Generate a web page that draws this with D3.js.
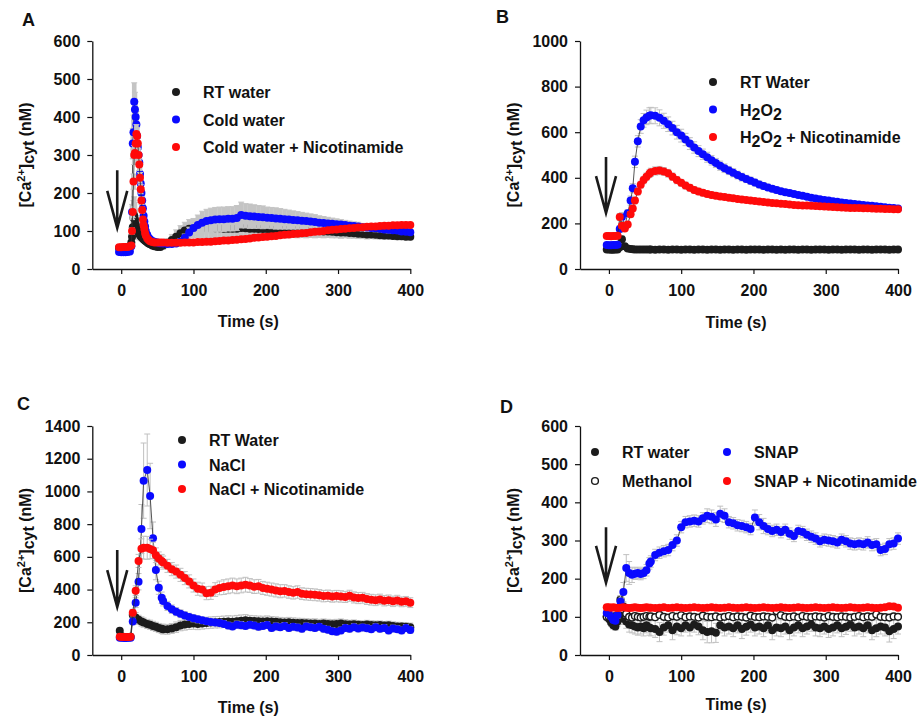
<!DOCTYPE html>
<html>
<head>
<meta charset="utf-8">
<script src="https://cdn.jsdelivr.net/npm/d3@7"></script>
<style>
  body { margin: 0; background: #fff; }
  svg text { font-family: Arial, "Liberation Sans", Helvetica, sans-serif; font-weight: bold; }
</style>
</head>
<body>
<svg id="fig" width="921" height="720"></svg>
<script>
// ---- tick labels ----
const xTicks = [0, 100, 200, 300, 400];
const yTicksA = [0, 100, 200, 300, 400, 500, 600];
const yTicksB = [0, 200, 400, 600, 800, 1000];
const yTicksC = [0, 200, 400, 600, 800, 1000, 1200, 1400];
const yTicksD = [0, 100, 200, 300, 400, 500, 600];

// ---- legends ----
const labelsA = ["RT water", "Cold water", "Cold water + Nicotinamide"];
const labelsB = ["RT Water", "H_2O_2", "H_2O_2 + Nicotinamide"];
const labelsC = ["RT Water", "NaCl", "NaCl + Nicotinamide"];
const labelsD = ["RT water", "Methanol", "SNAP", "SNAP + Nicotinamide"];

// treatment arrow (time, top value, tip value) for panels A-D
const arrowT = [-5.5, -4, -5.5, -4];
const arrowTop = [260, 491, 642, 335];
const arrowTip = [108, 245, 293, 189];

// ---- panel A: cold shock ----
const timeA = [
  -3, 0, 3, 6, 9, 12, 14, 15, 16, 17, 18, 19, 20, 21, 22, 23, 24, 25, 26, 27,
  28, 29, 30, 31, 32, 33, 34, 36, 38, 40, 43, 46, 50, 54,
  58, 64, 70, 76, 82, 88, 94, 100, 106, 112,
  118, 124, 130, 136, 142, 148, 154, 160, 166, 172,
  178, 184, 190, 196, 202, 208, 214, 220, 226, 232,
  238, 244, 250, 256, 262, 268, 274, 280, 286, 292,
  298, 304, 310, 316, 322, 328, 334, 340, 346, 352,
  358, 364, 370, 376, 382, 388, 394, 400];
const rtWaterA = [
  55, 55, 54, 55, 55, 58, 70, 85, 110, 135, 140, 130, 118, 110, 105, 100, 96, 92, 89, 86,
  84, 82, 80, 78, 76, 75, 73, 70, 67, 65, 62, 60, 58, 58,
  62, 68, 76, 85, 94, 101, 106, 108, 108, 108,
  108, 108, 107, 107, 106, 106, 106, 106, 108, 107,
  106, 106, 105, 105, 105, 104, 104, 104, 103, 103,
  103, 102, 102, 101, 101, 100, 100, 99, 99, 98,
  97, 96, 96, 95, 94, 93, 92, 91, 91, 90,
  89, 88, 88, 87, 86, 86, 85, 85];
const coldWaterA = [
  45, 44, 44, 44, 45, 46, 60, 150, 330, 360, 440, 420, 400, 380, 350, 320, 300, 280, 250, 225,
  200, 180, 160, 140, 125, 112, 100, 90, 82, 78, 74, 72, 70, 68,
  67, 66, 66, 67, 72, 82, 96, 108, 116, 122,
  126, 128, 130, 131, 131, 132, 132, 134, 142, 140,
  139, 138, 137, 136, 135, 134, 133, 132, 131, 130,
  129, 128, 127, 126, 125, 124, 122, 121, 120, 119,
  118, 117, 116, 114, 113, 112, 110, 109, 108, 107,
  106, 104, 103, 102, 101, 99, 98, 97];
const coldNicA = [
  57, 57, 58, 58, 58, 60, 62, 100, 150, 230, 300, 305, 330, 355, 350, 330, 300, 275, 240, 210,
  180, 155, 130, 115, 105, 95, 88, 80, 76, 73, 71, 70, 70, 70,
  70, 69, 69, 69, 69, 70, 70, 70, 71, 71,
  72, 72, 73, 74, 75, 75, 76, 77, 78, 79,
  80, 82, 83, 84, 85, 86, 87, 89, 90, 91,
  92, 93, 94, 95, 97, 98, 99, 100, 102, 103,
  104, 105, 106, 107, 108, 109, 110, 111, 112, 112,
  113, 114, 114, 115, 115, 116, 116, 116];
const rtWaterA_se = [
  3, 3, 3, 3, 3, 4, 8, 15, 30, 45, 50, 45, 40, 30, 25, 20, 18, 15, 12, 10,
  10, 8, 8, 8, 6, 6, 6, 5, 5, 5, 5, 5, 6, 8,
  10, 12, 15, 18, 20, 22, 24, 25, 25, 25,
  25, 25, 25, 25, 25, 25, 25, 25, 26, 25,
  25, 24, 24, 24, 23, 23, 22, 22, 21, 21,
  20, 20, 19, 19, 18, 18, 17, 17, 16, 16,
  15, 15, 14, 14, 13, 13, 12, 12, 11, 11,
  10, 10, 10, 9, 9, 9, 8, 8];
const coldWaterA_se = [
  3, 3, 3, 3, 3, 3, 5, 20, 40, 45, 50, 45, 40, 35, 30, 28, 25, 22, 20, 18,
  15, 12, 10, 10, 8, 8, 6, 6, 5, 5, 5, 5, 5, 5,
  5, 5, 5, 6, 8, 10, 14, 20, 26, 30,
  31, 32, 32, 32, 32, 32, 32, 33, 34, 32,
  32, 31, 30, 30, 28, 28, 28, 27, 26, 25,
  24, 23, 22, 21, 20, 19, 18, 17, 16, 15,
  14, 13, 12, 12, 11, 11, 10, 10, 9, 9,
  8, 8, 8, 7, 7, 7, 6, 6];
const coldNicA_se = [
  2, 2, 2, 2, 2, 2, 3, 8, 15, 20, 25, 25, 25, 25, 22, 20, 18, 16, 14, 12,
  10, 8, 6, 5, 5, 4, 4, 3, 3, 3, 3, 3, 3, 3,
  3, 3, 3, 3, 3, 3, 3, 3, 3, 3,
  3, 3, 3, 3, 3, 3, 3, 3, 3, 3,
  3, 3, 3, 3, 3, 3, 3, 3, 3, 3,
  3, 3, 3, 3, 3, 3, 3, 3, 3, 3,
  3, 3, 3, 3, 3, 3, 3, 3, 3, 3,
  3, 3, 3, 3, 3, 3, 3, 3];

// ---- panel B: H2O2 ----
const timeB = [
  -3, 0, 3, 6, 9, 12, 15, 18, 22, 26, 30, 33, 36, 40, 44, 48, 52, 56,
  58, 64, 70, 76, 82, 88, 94, 100, 106, 112,
  118, 124, 130, 136, 142, 148, 154, 160, 166, 172,
  178, 184, 190, 196, 202, 208, 214, 220, 226, 232,
  238, 244, 250, 256, 262, 268, 274, 280, 286, 292,
  298, 304, 310, 316, 322, 328, 334, 340, 346, 352,
  358, 364, 370, 376, 382, 388, 394, 400];
const rtWaterB = [
  85, 85, 84, 84, 85, 85, 95, 130, 100, 90, 88, 87, 86, 86, 85, 86, 85, 86,
  85, 84, 86, 85, 84, 85, 86, 84, 85, 85,
  84, 86, 85, 84, 85, 85, 84, 85, 86, 84,
  85, 85, 84, 85, 86, 85, 84, 85, 85, 84,
  85, 84, 85, 86, 84, 85, 85, 84, 85, 85,
  86, 84, 85, 85, 84, 85, 86, 85, 84, 85,
  85, 84, 85, 86, 85, 84, 85, 85];
const h2o2B = [
  105, 104, 104, 105, 105, 106, 175, 228, 185, 245, 300, 354, 470, 560, 625, 652, 665, 672,
  674, 672, 663, 650, 635, 618, 600, 585, 568, 550,
  533, 517, 503, 490, 477, 465, 453, 442, 432, 422,
  412, 403, 395, 387, 379, 371, 364, 358, 352, 346,
  341, 337, 333, 329, 325, 321, 317, 313, 309, 306,
  303, 300, 297, 295, 292, 290, 287, 285, 283, 281,
  279, 277, 275, 273, 271, 269, 267, 265];
const h2o2NicB = [
  145, 145, 144, 145, 145, 146, 228, 190, 178, 195, 240, 265, 300, 340, 370, 390, 405, 418,
  424, 430, 432, 428, 420, 405, 390, 378, 366, 356,
  347, 340, 334, 329, 325, 321, 318, 316, 313, 310,
  307, 305, 303, 300, 298, 296, 294, 292, 290, 288,
  286, 285, 283, 281, 280, 279, 278, 277, 276, 275,
  274, 273, 272, 271, 270, 269, 268, 268, 267, 266,
  266, 265, 264, 264, 263, 263, 262, 262];
const rtWaterB_se = [
  5, 5, 5, 5, 5, 5, 8, 15, 10, 8, 8, 8, 8, 8, 8, 8, 8, 8,
  8, 8, 8, 8, 8, 8, 8, 8, 8, 8,
  8, 8, 8, 8, 8, 8, 8, 8, 8, 8,
  8, 8, 8, 8, 8, 8, 8, 8, 8, 8,
  8, 8, 8, 8, 8, 8, 8, 8, 8, 8,
  8, 8, 8, 8, 8, 8, 8, 8, 8, 8,
  8, 8, 8, 8, 8, 8, 8, 8];
const h2o2B_se = [
  8, 8, 8, 8, 8, 8, 15, 20, 15, 15, 20, 20, 25, 25, 30, 30, 32, 35,
  35, 35, 35, 33, 32, 30, 30, 28, 27, 26,
  25, 24, 23, 22, 21, 20, 20, 19, 18, 18,
  17, 17, 16, 16, 15, 15, 15, 14, 14, 14,
  13, 13, 13, 12, 12, 12, 12, 11, 11, 11,
  11, 10, 10, 10, 10, 10, 10, 9, 9, 9,
  9, 9, 9, 9, 8, 8, 8, 8];
const h2o2NicB_se = [
  5, 5, 5, 5, 5, 5, 15, 12, 10, 10, 12, 12, 14, 15, 15, 16, 16, 17,
  18, 18, 18, 17, 17, 16, 16, 15, 15, 15,
  14, 14, 14, 13, 13, 13, 12, 12, 12, 12,
  11, 11, 11, 11, 10, 10, 10, 10, 10, 10,
  9, 9, 9, 9, 9, 9, 9, 8, 8, 8,
  8, 8, 8, 8, 8, 8, 7, 7, 7, 7,
  7, 7, 7, 7, 7, 7, 7, 7];

// ---- panel C: NaCl ----
const timeC = [
  -2, 1, 4, 7, 10, 13, 16, 20, 24, 28, 31, 36, 40, 44, 48, 52, 56,
  58, 64, 70, 76, 82, 88, 94, 100, 106, 112,
  118, 124, 130, 136, 142, 148, 154, 160, 166, 172,
  178, 184, 190, 196, 202, 208, 214, 220, 226, 232,
  238, 244, 250, 256, 262, 268, 274, 280, 286, 292,
  298, 304, 310, 316, 322, 328, 334, 340, 346, 352,
  358, 364, 370, 376, 382, 388, 394, 400];
const rtWaterC = [
  148, 115, 110, 110, 110, 112, 245, 230, 215, 205, 198, 190, 185, 178, 172, 165, 160,
  158, 157, 162, 170, 180, 186, 190, 192, 190, 193,
  196, 198, 200, 201, 203, 205, 204, 207, 210, 212,
  210, 208, 206, 205, 207, 205, 203, 200, 198, 200,
  197, 195, 196, 194, 192, 193, 190, 192, 190, 188,
  190, 192, 188, 186, 188, 185, 183, 186, 184, 182,
  183, 180, 182, 178, 175, 174, 172, 170];
const naclC = [
  105, 105, 104, 104, 105, 106, 205, 320, 448, 770, 1066, 1131, 972, 713, 520, 411, 350,
  330, 300, 280, 265, 252, 242, 233, 225, 218, 212,
  207, 202, 198, 195, 190, 180, 175, 185, 182, 178,
  185, 180, 172, 178, 183, 165, 175, 170, 178, 165,
  172, 168, 160, 175, 170, 165, 172, 160, 155, 145,
  142, 150, 165, 160, 170, 162, 168, 163, 158, 170,
  160, 165, 150, 162, 158, 150, 165, 153];
const naclNicC = [
  112, 110, 110, 110, 110, 112, 259, 393, 575, 650, 656, 655, 648, 640, 610, 590, 575,
  565, 545, 525, 510, 490, 470, 450, 425, 405, 400,
  378, 380, 400, 410, 415, 420, 425, 420, 425, 430,
  425, 418, 420, 410, 405, 400, 395, 390, 392, 385,
  380, 385, 375, 372, 370, 368, 365, 360, 362, 358,
  360, 358, 355, 362, 352, 348, 350, 342, 338, 335,
  340, 332, 335, 328, 333, 325, 328, 320];
const rtWaterC_se = [
  10, 8, 8, 8, 8, 8, 30, 30, 28, 28, 28, 28, 28, 28, 28, 28, 28,
  30, 30, 30, 32, 32, 34, 34, 35, 35, 35,
  35, 35, 35, 35, 35, 35, 35, 35, 35, 35,
  32, 32, 32, 32, 32, 30, 30, 30, 30, 30,
  30, 30, 28, 28, 28, 28, 28, 28, 28, 28,
  28, 28, 28, 26, 26, 26, 26, 26, 26, 26,
  25, 25, 25, 25, 25, 25, 25, 25];
const naclC_se = [
  5, 5, 5, 5, 5, 5, 20, 30, 50, 150, 230, 220, 200, 100, 60, 40, 35,
  30, 28, 26, 25, 24, 23, 22, 22, 21, 20,
  20, 20, 20, 20, 20, 20, 20, 22, 22, 20,
  20, 20, 20, 20, 20, 20, 20, 20, 20, 20,
  20, 20, 20, 20, 20, 20, 20, 20, 20, 20,
  20, 20, 20, 20, 20, 20, 20, 20, 20, 20,
  20, 20, 20, 20, 20, 20, 20, 20];
const naclNicC_se = [
  5, 5, 5, 5, 5, 5, 20, 30, 40, 60, 70, 70, 60, 50, 45, 40, 40,
  40, 40, 40, 40, 40, 40, 40, 40, 40, 40,
  40, 40, 42, 42, 45, 45, 45, 45, 45, 45,
  42, 42, 42, 40, 40, 40, 40, 40, 38, 38,
  38, 38, 36, 36, 36, 36, 35, 35, 35, 35,
  35, 35, 34, 34, 34, 34, 33, 33, 33, 33,
  32, 32, 32, 32, 32, 30, 30, 30];

// ---- panel D: SNAP ----
const timeD = [
  -3, 0, 3, 6, 9, 12, 16, 20, 24, 28, 32, 36, 40, 44, 48, 52, 56,
  58, 64, 70, 76, 82, 88, 94, 100, 106, 112,
  118, 124, 130, 136, 142, 148, 154, 160, 166, 172,
  178, 184, 190, 196, 202, 208, 214, 220, 226, 232,
  238, 244, 250, 256, 262, 268, 274, 280, 286, 292,
  298, 304, 310, 316, 322, 328, 334, 340, 346, 352,
  358, 364, 370, 376, 382, 388, 394, 400];
const rtWaterD = [
  100, 95, 85, 78, 75, 88, 103, 95, 88, 80, 78, 75, 72, 75, 70, 78, 72,
  70, 68, 60, 72, 78, 65, 75, 70, 78, 72,
  80, 75, 65, 60, 62, 58, 78, 72, 75, 70,
  78, 68, 74, 80, 72, 75, 70, 78, 65, 72,
  70, 75, 65, 72, 78, 70, 75, 80, 72, 70,
  75, 68, 72, 78, 70, 74, 80, 72, 75, 70,
  78, 65, 70, 75, 72, 62, 68, 75];
const methanolD = [
  100, 100, 98, 100, 102, 104, 145, 127, 108, 100, 98, 102, 100, 98, 100, 102, 100,
  101, 99, 105, 100, 98, 102, 100, 104, 99, 101,
  100, 98, 103, 100, 99, 101, 98, 100, 102, 99,
  101, 100, 98, 103, 100, 99, 101, 100, 98, 115,
  104, 100, 99, 101, 98, 102, 100, 99, 101, 100,
  98, 102, 100, 99, 101, 100, 98, 100, 102, 99,
  101, 100, 106, 100, 99, 98, 101, 100];
const snapD = [
  110, 108, 100, 92, 90, 105, 140, 165, 228, 215, 210, 213, 215, 212, 215, 222, 240,
  245, 262, 268, 272, 275, 288, 300, 335, 348, 350,
  352, 350, 358, 365, 362, 355, 370, 365, 348, 345,
  340, 338, 335, 330, 360, 348, 338, 330, 325, 328,
  322, 328, 318, 312, 325, 322, 315, 310, 305, 298,
  302, 300, 298, 295, 302, 298, 292, 290, 292, 290,
  295, 288, 290, 275, 278, 290, 292, 305];
const snapNicD = [
  125, 125, 124, 125, 124, 123, 124, 125, 124, 123, 124, 125, 124, 123, 124, 125, 124,
  124, 123, 124, 125, 123, 124, 125, 124, 123, 124,
  125, 124, 123, 124, 125, 124, 123, 124, 125, 124,
  123, 124, 125, 124, 123, 124, 125, 124, 123, 124,
  125, 124, 123, 124, 125, 124, 123, 124, 125, 124,
  123, 124, 125, 124, 123, 124, 125, 124, 123, 124,
  125, 124, 123, 124, 125, 128, 127, 124];
const rtWaterD_se = [
  10, 10, 10, 10, 10, 12, 15, 15, 18, 20, 20, 20, 20, 20, 20, 20, 20,
  20, 22, 25, 20, 18, 25, 22, 20, 18, 22,
  20, 22, 25, 28, 30, 25, 20, 22, 20, 22,
  20, 25, 22, 20, 22, 20, 22, 20, 25, 22,
  22, 20, 25, 22, 20, 22, 20, 18, 22, 22,
  20, 22, 22, 20, 22, 20, 18, 22, 20, 22,
  20, 25, 22, 20, 22, 28, 25, 20];
const methanolD_se = [
  5, 5, 5, 5, 5, 5, 10, 10, 8, 8, 8, 8, 8, 8, 8, 8, 8,
  8, 8, 8, 8, 8, 8, 8, 8, 8, 8,
  8, 8, 8, 8, 8, 8, 8, 8, 8, 8,
  8, 8, 8, 8, 8, 8, 8, 8, 8, 10,
  8, 8, 8, 8, 8, 8, 8, 8, 8, 8,
  8, 8, 8, 8, 8, 8, 8, 8, 8, 8,
  8, 8, 8, 8, 8, 8, 8, 8];
const snapD_se = [
  5, 5, 5, 5, 5, 8, 15, 25, 35, 30, 20, 15, 15, 15, 15, 15, 15,
  15, 15, 15, 15, 15, 15, 15, 15, 15, 15,
  15, 15, 15, 18, 18, 18, 20, 18, 15, 15,
  15, 15, 15, 15, 20, 20, 20, 15, 15, 15,
  15, 15, 15, 15, 15, 15, 15, 15, 15, 15,
  15, 15, 15, 15, 15, 15, 15, 15, 15, 15,
  15, 15, 15, 15, 15, 15, 15, 15];
const snapNicD_se = [
  5, 5, 5, 5, 5, 5, 5, 5, 5, 5, 5, 5, 5, 5, 5, 5, 5,
  6, 6, 6, 6, 6, 6, 6, 6, 6, 6,
  6, 6, 6, 6, 6, 6, 6, 6, 6, 6,
  6, 6, 6, 6, 6, 6, 6, 6, 6, 6,
  6, 6, 6, 6, 6, 6, 6, 6, 6, 6,
  6, 6, 6, 6, 6, 6, 6, 6, 6, 6,
  6, 6, 6, 6, 6, 6, 6, 6];

const BLACK = "#1c1c1c", BLUE = "#0a0aff", RED = "#ff0a0a";

const panels = [
  {
    letter: "A", letterPos: [22, 26], left: 92.3, top: 41, h: 228, yMax: 600, yTicks: yTicksA,
    legendPos: [176, 92], legendRow: 27.5, legendCols: 1, labels: labelsA, titleDy: 58,
    errWidth: 4.6, errColor: "#c4c4c4",
    series: [
      {t: timeA, v: rtWaterA, e: rtWaterA_se, fill: BLACK},
      {t: timeA, v: coldWaterA, e: coldWaterA_se, fill: BLUE},
      {t: timeA, v: coldNicA, e: coldNicA_se, fill: RED}
    ]
  },
  {
    letter: "B", letterPos: [496, 23], left: 580, top: 41, h: 228, yMax: 1000, yTicks: yTicksB,
    legendPos: [713, 82], legendRow: 27.5, legendCols: 1, labels: labelsB, titleDy: 59,
    errWidth: 1, errColor: "#c0c0c0",
    series: [
      {t: timeB, v: rtWaterB, e: rtWaterB_se, fill: BLACK},
      {t: timeB, v: h2o2B, e: h2o2B_se, fill: BLUE},
      {t: timeB, v: h2o2NicB, e: h2o2NicB_se, fill: RED}
    ]
  },
  {
    letter: "C", letterPos: [17, 410], left: 92.3, top: 426, h: 229, yMax: 1400, yTicks: yTicksC,
    legendPos: [182, 440], legendRow: 24.5, legendCols: 1, labels: labelsC, titleDy: 58,
    errWidth: 1, errColor: "#c0c0c0",
    series: [
      {t: timeC, v: rtWaterC, e: rtWaterC_se, fill: BLACK},
      {t: timeC, v: naclC, e: naclC_se, fill: BLUE},
      {t: timeC, v: naclNicC, e: naclNicC_se, fill: RED}
    ]
  },
  {
    letter: "D", letterPos: [500, 413], left: 580, top: 426, h: 229, yMax: 600, yTicks: yTicksD,
    legendPos: [595, 452], legendRow: 29, legendCols: 2, legendColW: 132, labels: labelsD, titleDy: 55,
    errWidth: 1, errColor: "#c0c0c0",
    series: [
      {t: timeD, v: rtWaterD, e: rtWaterD_se, fill: BLACK},
      {t: timeD, v: methanolD, e: methanolD_se, fill: "#fff", stroke: BLACK},
      {t: timeD, v: snapD, e: snapD_se, fill: BLUE},
      {t: timeD, v: snapNicD, e: snapNicD_se, fill: RED}
    ]
  }
];

const plotW = 318;
const svg = d3.select("#fig");

// label text with "_2" style subscripts
function richText(sel, label) {
  let parts = label.split(/_(\d)/);
  parts.forEach(function (p, i) {
    if (p === "") return;
    if (i % 2 === 1) {
      sel.append("tspan").attr("dy", 4).text(p);
    } else {
      sel.append("tspan").attr("dy", i > 0 ? -4 : 0).text(p);
    }
  });
}

function drawPanel(p, idx) {
  let x = d3.scaleLinear().domain([-40, 400]).range([p.left, p.left + plotW]);
  let y = d3.scaleLinear().domain([0, p.yMax]).range([p.top + p.h, p.top]);
  let g = svg.append("g");
  let line = d3.line().x(d => x(d.t)).y(d => y(d.v));

  // each series in turn: error bars, connecting line, symbols
  p.series.forEach(function (s) {
    let pts = s.t.map(function (t, i) {
      return {t: t, v: s.v[i], e: s.e[i]};
    });

    let bars = g.append("g")
        .attr("stroke", p.errColor)
        .selectAll("g").data(pts).enter().append("g");
    bars.append("line")
        .attr("stroke-width", p.errWidth)
        .attr("x1", d => x(d.t)).attr("x2", d => x(d.t))
        .attr("y1", d => y(d.v - d.e)).attr("y2", d => y(d.v + d.e));
    bars.append("line")
        .attr("x1", d => x(d.t) - 3).attr("x2", d => x(d.t) + 3)
        .attr("y1", d => y(d.v + d.e)).attr("y2", d => y(d.v + d.e));
    bars.append("line")
        .attr("x1", d => x(d.t) - 3).attr("x2", d => x(d.t) + 3)
        .attr("y1", d => y(d.v - d.e)).attr("y2", d => y(d.v - d.e));

    g.append("path")
        .datum(pts)
        .attr("fill", "none")
        .attr("stroke", "#2a2a2a")
        .attr("stroke-width", 0.8)
        .attr("d", line);

    g.append("g").selectAll("circle").data(pts).enter().append("circle")
        .attr("cx", d => x(d.t))
        .attr("cy", d => y(d.v))
        .attr("r", s.stroke ? 3.4 : 4)
        .attr("fill", s.fill)
        .attr("stroke", s.stroke || "none")
        .attr("stroke-width", 1.4);
  });

  // treatment arrow
  let ax = x(arrowT[idx]), ay0 = y(arrowTop[idx]), ay1 = y(arrowTip[idx]);
  g.append("path")
      .attr("d", "M" + ax + "," + ay0 + "L" + ax + "," + ay1 +
                 "M" + (ax - 10) + "," + (ay1 - 37) + "L" + ax + "," + ay1 + "L" + (ax + 10) + "," + (ay1 - 37))
      .attr("fill", "none")
      .attr("stroke", "#1a1a1a")
      .attr("stroke-width", 2.6)
      .attr("stroke-linejoin", "miter");

  // axes
  let xAxis = g.append("g")
      .attr("transform", "translate(0," + (p.top + p.h) + ")")
      .call(d3.axisBottom(x).tickValues(xTicks).tickFormat(d3.format("d"))
          .tickSize(5).tickPadding(11).tickSizeOuter(0));
  let yAxis = g.append("g")
      .attr("transform", "translate(" + p.left + ",0)")
      .call(d3.axisLeft(y).tickValues(p.yTicks).tickFormat(d3.format("d"))
          .tickSize(5).tickPadding(7).tickSizeOuter(0));
  [xAxis, yAxis].forEach(function (a) {
    a.attr("font-size", 16).attr("font-family", null);
    a.select(".domain").attr("stroke", "#111").attr("stroke-width", 1.3);
    a.selectAll(".tick line").attr("stroke", "#111").attr("stroke-width", 1.2);
    a.selectAll(".tick text").attr("fill", "#111");
  });

  // axis titles
  g.append("text")
      .attr("x", p.left + plotW / 2 - 3)
      .attr("y", p.top + p.h + p.titleDy)
      .attr("text-anchor", "middle")
      .attr("font-size", 16)
      .attr("fill", "#111")
      .text("Time (s)");

  let yt = g.append("text")
      .attr("transform", "translate(" + (p.left - 61) + "," + (p.top + p.h / 2) + ") rotate(-90)")
      .attr("text-anchor", "middle")
      .attr("font-size", 16)
      .attr("fill", "#111");
  yt.append("tspan").text("[Ca");
  yt.append("tspan").attr("dy", -6).attr("font-size", 11).text("2+");
  yt.append("tspan").attr("dy", 6).text("]");
  yt.append("tspan").attr("dy", 3).text("cyt");
  yt.append("tspan").attr("dy", -3).text(" (nM)");

  // panel letter
  g.append("text")
      .attr("x", p.letterPos[0]).attr("y", p.letterPos[1])
      .attr("font-size", 18)
      .attr("fill", "#111")
      .text(p.letter);

  // legend
  let perCol = Math.ceil(p.labels.length / p.legendCols);
  p.labels.forEach(function (lab, i) {
    let s = p.series[i];
    let col = Math.floor(i / perCol), row = i % perCol;
    let lx = p.legendPos[0] + col * (p.legendColW || 0);
    let ly = p.legendPos[1] + row * p.legendRow;
    g.append("circle")
        .attr("cx", lx).attr("cy", ly)
        .attr("r", s.stroke ? 3.4 : 4)
        .attr("fill", s.fill)
        .attr("stroke", s.stroke || "none")
        .attr("stroke-width", 1.4);
    let t = g.append("text")
        .attr("x", lx + 27).attr("y", ly + 6)
        .attr("font-size", 16)
        .attr("fill", "#111");
    richText(t, lab);
  });
}

panels.forEach(drawPanel);
</script>
</body>
</html>
